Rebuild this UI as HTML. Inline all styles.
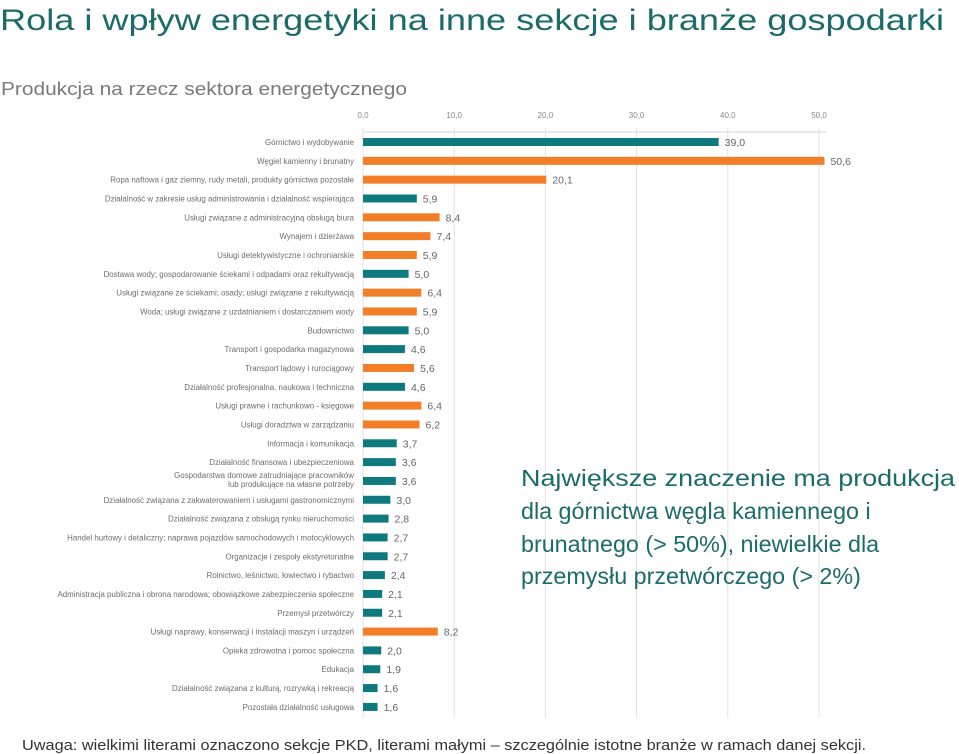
<!DOCTYPE html>
<html><head><meta charset="utf-8"><style>
html,body{margin:0;padding:0;background:#fff;width:959px;height:754px;overflow:hidden}
svg{display:block;font-family:"Liberation Sans",sans-serif}
</style></head><body>
<svg id="chart" width="959" height="754">
<text x="0" y="30" font-size="30" fill="#1b6b6b" textLength="944" lengthAdjust="spacingAndGlyphs">Rola i wpływ energetyki na inne sekcje i branże gospodarki</text>
<text x="1" y="95" font-size="18" fill="#7a7a7a" textLength="406" lengthAdjust="spacingAndGlyphs">Produkcja na rzecz sektora energetycznego</text>
<g id="grid"></g>
<g id="bars"></g>
<g font-size="23.3" fill="#1b6b6b">
<text x="521" y="486" textLength="434" lengthAdjust="spacingAndGlyphs">Największe znaczenie ma produkcja</text>
<text x="521" y="519">dla górnictwa węgla kamiennego i</text>
<text x="521" y="552">brunatnego (&gt; 50%), niewielkie dla</text>
<text x="521" y="584">przemysłu przetwórczego (&gt; 2%)</text>
</g>
<text x="22" y="750" font-size="15" fill="#333" textLength="844" lengthAdjust="spacingAndGlyphs">Uwaga: wielkimi literami oznaczono sekcje PKD, literami małymi – szczególnie istotne branże w ramach danej sekcji.</text>
</svg>
<script>
const categories=["Górnictwo i wydobywanie","Węgiel kamienny i brunatny","Ropa naftowa i gaz ziemny, rudy metali, produkty górnictwa pozostałe","Działalność w zakresie usług administrowania i działalność wspierająca","Usługi związane z administracyjną obsługą biura","Wynajem i dzierżawa","Usługi detektywistyczne i ochroniarskie","Dostawa wody; gospodarowanie ściekami i odpadami oraz rekultywacją","Usługi związane ze ściekami; osady; usługi związane z rekultywacją","Woda; usługi związane z uzdatnianiem i dostarczaniem wody","Budownictwo","Transport i gospodarka magazynowa","Transport lądowy i rurociągowy","Działalność profesjonalna, naukowa i techniczna","Usługi prawne i rachunkowo - księgowe","Usługi doradztwa w zarządzaniu","Informacja i komunikacja","Działalność finansowa i ubezpieczeniowa","Gospodarstwa domowe zatrudniające pracowników|lub produkujące na własne potrzeby","Działalność związana z zakwaterowaniem i usługami gastronomicznymi","Działalność związana z obsługą rynku nieruchomości","Handel hurtowy i detaliczny; naprawa pojazdów samochodowych i motocyklowych","Organizacje i zespoły ekstyretorialne","Rolnictwo, leśnictwo, łowiectwo i rybactwo","Administracja publiczna i obrona narodowa; obowiązkowe zabezpieczenia społeczne","Przemysł przetwórczy","Usługi naprawy, konserwacji i instalacji maszyn i urządzeń","Opieka zdrowotna i pomoc społeczna","Edukacja","Działalność związana z kulturą, rozrywką i rekreacją","Pozostała działalność usługowa"];
const values=[39.0,50.6,20.1,5.9,8.4,7.4,5.9,5.0,6.4,5.9,5.0,4.6,5.6,4.6,6.4,6.2,3.7,3.6,3.6,3.0,2.8,2.7,2.7,2.4,2.1,2.1,8.2,2.0,1.9,1.6,1.6];
const isSection=[1,0,0,1,0,0,0,1,0,0,1,1,0,1,0,0,1,1,1,1,1,1,1,1,1,1,0,1,1,1,1];
const ticks=[0,10,20,30,40,50];
const tickLabels=["0,0","10,0","20,0","30,0","40,0","50,0"];
const NS="http://www.w3.org/2000/svg";
const x=v=>363+v*9.12;
const y=i=>142+i*18.83;
const grid=document.getElementById('grid'),bars=document.getElementById('bars');
function mk(tag,attrs,parent){const e=document.createElementNS(NS,tag);for(const k in attrs)e.setAttribute(k,attrs[k]);parent.appendChild(e);return e;}
mk('line',{x1:363,x2:826,y1:132,y2:132,stroke:'#e2e2e2','stroke-width':1.5},grid);
ticks.forEach((t,i)=>{
 const l=mk('line',{x1:x(t),x2:x(t),y1:128,y2:718,stroke:'#e2e2e2','stroke-width':1},grid);
 
 
 const tx=mk('text',{x:x(t),y:118,'font-size':8,fill:'#888','text-anchor':'middle'},grid);
 tx.textContent=tickLabels[i];
 
 
});
categories.forEach((c,i)=>{
 const yy=y(i);
 const r=mk('rect',{x:363,y:yy-4,width:Math.max(0,x(values[i])-363),height:8,fill:isSection[i]?'#0e7a7e':'#f27e27'},bars);
 
 
 const parts=c.split('|');
 parts.forEach((p,j)=>{
  const ly=parts.length>1?yy-3+j*9:yy+3;
  const t=mk('text',{x:354,y:ly,'font-size':7.9,fill:'#6d6d6d','text-anchor':'end'},bars);
  t.textContent=p;
  
  
 });
 const v=mk('text',{x:x(values[i])+6,y:yy+4,'font-size':10.5,fill:'#666'},bars);
 v.textContent=values[i].toFixed(1).replace('.',',');
 
 
});
</script>
</body></html>
